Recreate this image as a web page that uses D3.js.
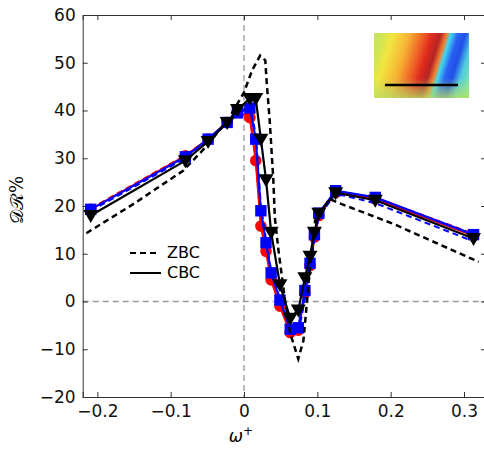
<!DOCTYPE html>
<html>
<head>
<meta charset="utf-8">
<script src="https://cdn.jsdelivr.net/npm/d3@7"></script>
<style>
  body { margin: 0; background: #fff; }
  svg { display: block; font-family: "DejaVu Sans", sans-serif; }
  .axis path, .axis line { stroke: #333; }
  .axis text { font-size: 17px; fill: #111; font-family: "DejaVu Sans", sans-serif; }
</style>
</head>
<body>
<div id="chart"></div>
<script>
// omega+ positions shared by the CBC marker series
const omega = [-0.209, -0.08, -0.049, -0.023, -0.009, 0.008, 0.016, 0.023, 0.030, 0.037,
  0.049, 0.063, 0.074, 0.083, 0.090, 0.096, 0.102, 0.125, 0.179, 0.313];

// CBC (solid, with markers)
const redCBC = [19.3, 30.5, 34, 37.5, 39.8, 38.5, 29.5, 15.8, 10.5, 4.5,
  -1, -6.5, -6, 1.8, 7.5, 13.5, 18, 22.8, 21.5, 13.8];
const blueCBC = [19.3, 30.3, 34, 37.5, 39.5, 40.5, 34, 19, 12.3, 6,
  0.3, -5.8, -5.5, 2.3, 8, 14, 18.5, 23.2, 21.8, 14];
const blackCBC = [18, 29.5, 33.5, 37.5, 40.2, 42.5, 42.5, 34, 25.5, 14.5,
  3.5, -3.5, -1.8, 5, 9.5, 14.5, 18.5, 22.8, 21.2, 13.2];

// ZBC (dashed, no markers)
const redZBC = [19.5, 30.6, 34, 37.5, 39.8, 38.8, 30, 16.5, 11, 5,
  -0.8, -6.3, -6.2, 1.5, 7.3, 13.3, 18, 22.9, 21.7, 14.2];
const blueZBC = [19, 30, 33.8, 37.3, 39.5, 41, 35, 20, 13, 6.5,
  0.5, -5.5, -6.8, 0.5, 6.5, 13, 17.8, 22.6, 20.6, 12.6];
const omegaBlackZBC = [-0.215, -0.15, -0.083, -0.05, -0.02, 0, 0.011, 0.022, 0.029, 0.031,
  0.035, 0.040, 0.042, 0.047, 0.056, 0.063, 0.074, 0.081, 0.086, 0.090,
  0.097, 0.117, 0.128, 0.203, 0.32];
const blackZBC = [14.3, 20.5, 27.4, 32.7, 38.5, 43.8, 48.4, 51.5, 50.5, 45.7,
  38, 25.3, 17.6, 10.7, 0.2, -6.7, -12, -8.2, 0.2, 7,
  17, 21.5, 20.7, 16.3, 8.3];

const xTicks = [-0.2, -0.1, 0, 0.1, 0.2, 0.3];
const yTicks = [-20, -10, 0, 10, 20, 30, 40, 50, 60];

const width = 484, height = 449;
const padLeft = 82.7, padRight = 486, padTop = 15, padBtm = 397;

const svg = d3.select("#chart").append("svg")
  .attr("width", width)
  .attr("height", height);

const x = d3.scaleLinear().domain([-0.22, 0.33]).range([padLeft, padRight]);
const y = d3.scaleLinear().domain([-20, 60]).range([padBtm, padTop]);

const fmt = d => d === 0 ? "0" : d3.format("")(d).replace("-", "\u2212");

// zero reference lines
svg.append("line")
  .attr("x1", padLeft).attr("x2", padRight)
  .attr("y1", y(0)).attr("y2", y(0))
  .style("stroke", "#999").style("stroke-width", 1.3)
  .style("stroke-dasharray", "6,4");
svg.append("line")
  .attr("x1", x(0)).attr("x2", x(0))
  .attr("y1", padTop).attr("y2", padBtm)
  .style("stroke", "#999").style("stroke-width", 1.3)
  .style("stroke-dasharray", "6,4");

// axes, ticks pointing inwards on all four sides
svg.append("g").attr("class", "axis")
  .attr("transform", "translate(0," + padBtm + ")")
  .call(d3.axisBottom(x).tickValues(xTicks).tickSize(-5).tickPadding(8).tickFormat(fmt));
svg.append("g").attr("class", "axis")
  .attr("transform", "translate(0," + padTop + ")")
  .call(d3.axisTop(x).tickValues(xTicks).tickSize(-5).tickFormat(""));
svg.append("g").attr("class", "axis")
  .attr("transform", "translate(" + padLeft + ",0)")
  .call(d3.axisLeft(y).tickValues(yTicks).tickSize(-5).tickPadding(7).tickFormat(fmt));
svg.append("g").attr("class", "axis")
  .attr("transform", "translate(" + padRight + ",0)")
  .call(d3.axisRight(y).tickValues(yTicks).tickSize(-5).tickFormat(""));
svg.selectAll(".axis .domain").style("stroke", "#333");

// axis titles
svg.append("text")
  .attr("x", x(0) - 3).attr("y", 442)
  .attr("text-anchor", "middle")
  .style("font-size", "17px").style("font-style", "italic")
  .text("ω")
  .append("tspan").attr("dy", -7).style("font-size", "12px").style("font-style", "normal").text("+");
svg.append("text")
  .attr("transform", "translate(23,200) rotate(-90)")
  .attr("text-anchor", "middle")
  .style("font-size", "18px").style("font-family", "DejaVu Serif, serif")
  .text("𝒟ℛ%");

const line = d3.line();

function drawLine(xs, ys, color, dashed, w) {
  svg.append("path")
    .datum(xs.map((d, i) => [x(d), y(ys[i])]))
    .attr("fill", "none")
    .attr("stroke", color)
    .attr("stroke-width", w)
    .attr("stroke-dasharray", dashed ? "6,4" : null)
    .attr("d", line);
}

const sym = {
  circle: d3.symbol().type(d3.symbolCircle).size(105),
  square: d3.symbol().type(d3.symbolSquare).size(130)
};

function drawMarkers(ys, color, type) {
  const g = svg.append("g");
  if (type === "triangle") {
    g.selectAll("path").data(ys).enter().append("path")
      .attr("d", "M-7.5,-5.5L7.5,-5.5L0,7.5Z")
      .attr("transform", (d, i) => "translate(" + x(omega[i]) + "," + y(d) + ")")
      .attr("fill", color);
  } else {
    g.selectAll("path").data(ys).enter().append("path")
      .attr("d", sym[type])
      .attr("transform", (d, i) => "translate(" + x(omega[i]) + "," + y(d) + ")")
      .attr("fill", color);
  }
}

drawLine(omega, redZBC, "#ff0000", true, 2);
drawLine(omega, redCBC, "#ff0000", false, 2.2);
drawMarkers(redCBC, "#ff0000", "circle");
drawLine(omega, blueZBC, "#0000ff", true, 2);
drawLine(omega, blueCBC, "#0000ff", false, 2.2);
drawMarkers(blueCBC, "#0000ff", "square");
drawLine(omega, blackCBC, "#000", false, 2.2);
drawMarkers(blackCBC, "#000", "triangle");
drawLine(omegaBlackZBC, blackZBC, "#000", true, 2.5);

// legend
const legend = svg.append("g").style("font-size", "16px");
legend.append("line")
  .attr("x1", 130).attr("x2", 158).attr("y1", 253).attr("y2", 253)
  .style("stroke", "#000").style("stroke-width", 2).style("stroke-dasharray", "6,4");
legend.append("text").attr("x", 167).attr("y", 258).text("ZBC");
legend.append("line")
  .attr("x1", 130).attr("x2", 161).attr("y1", 273).attr("y2", 273)
  .style("stroke", "#000").style("stroke-width", 2);
legend.append("text").attr("x", 167).attr("y", 278).text("CBC");

// inset: contour snapshot
const defs = svg.append("defs");
const grad = defs.append("linearGradient")
  .attr("id", "inset")
  .attr("gradientUnits", "userSpaceOnUse")
  .attr("x1", 374).attr("y1", 55).attr("x2", 469).attr("y2", 84);
[[0, "#c8e45a"], [0.12, "#f2e640"], [0.28, "#f7b234"], [0.4, "#f06a28"],
 [0.5, "#e02a1e"], [0.58, "#b52424"], [0.64, "#f08030"], [0.68, "#40d8f0"],
 [0.75, "#2a60f2"], [0.82, "#2050e8"], [0.9, "#50c8e0"], [1, "#7ae8a8"]]
  .forEach(s => grad.append("stop").attr("offset", s[0]).attr("stop-color", s[1]));
const gradB = defs.append("linearGradient")
  .attr("id", "insetBottom").attr("x1", 0).attr("y1", 0).attr("x2", 0).attr("y2", 1);
gradB.append("stop").attr("offset", 0).attr("stop-color", "#a8e070").attr("stop-opacity", 0);
gradB.append("stop").attr("offset", 1).attr("stop-color", "#b8e060").attr("stop-opacity", 0.8);

svg.append("rect")
  .attr("x", 374).attr("y", 33).attr("width", 95).attr("height", 65)
  .attr("fill", "url(#inset)");
svg.append("rect")
  .attr("x", 374).attr("y", 78).attr("width", 95).attr("height", 20)
  .attr("fill", "url(#insetBottom)");
svg.append("line")
  .attr("x1", 385).attr("x2", 458).attr("y1", 85).attr("y2", 85)
  .style("stroke", "#000").style("stroke-width", 2.5);
</script>
</body>
</html>
